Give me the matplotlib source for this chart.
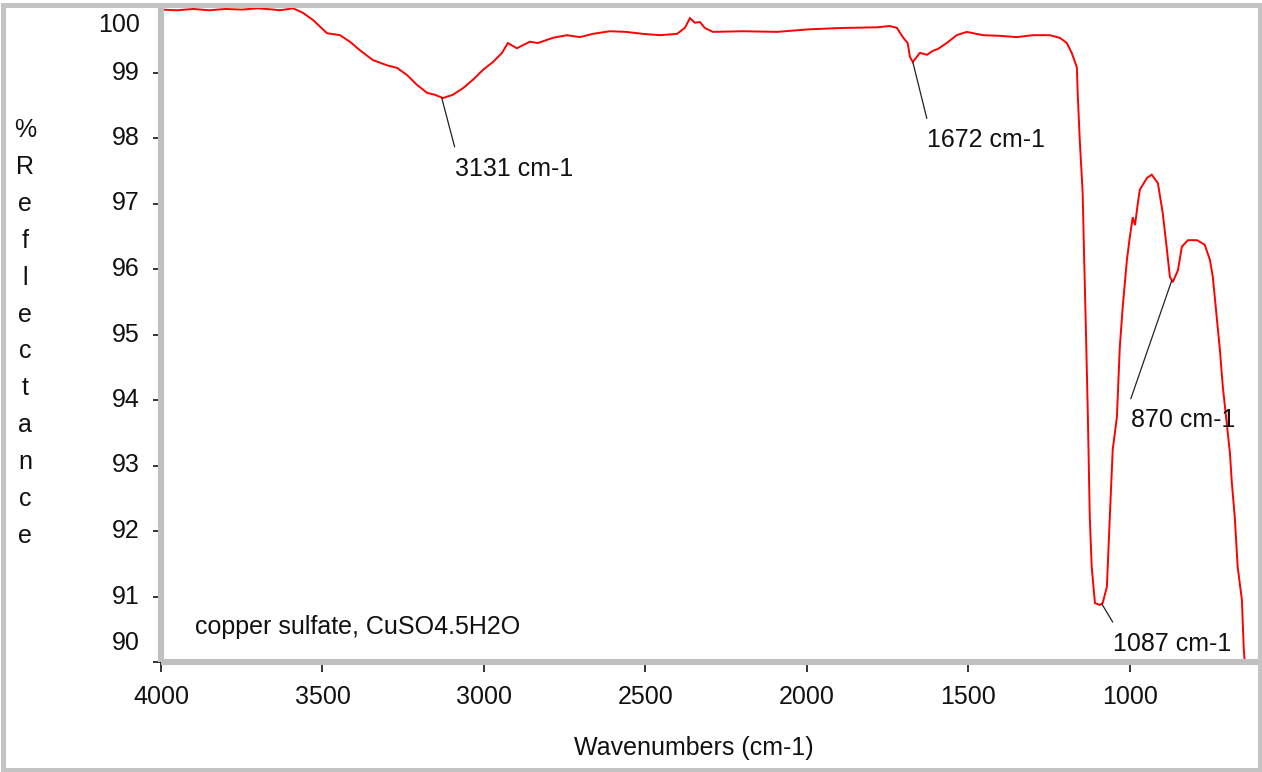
import numpy as np
import matplotlib
matplotlib.use("Agg")
import matplotlib.pyplot as plt
from matplotlib.patches import Rectangle
from matplotlib.ticker import MultipleLocator

# ---------------- data ----------------
wavenumber = [4000, 3950, 3900, 3850, 3800, 3750, 3700, 3650, 3632, 3591, 3560, 3529,
              3486, 3446, 3415, 3384, 3344, 3300, 3269, 3238, 3207, 3176, 3152, 3127,
              3096, 3065, 3034, 3003, 2972, 2944, 2926, 2898, 2858, 2833, 2786, 2743,
              2703, 2663, 2610, 2560, 2508, 2455, 2402, 2378, 2362, 2347, 2331, 2316,
              2291, 2198, 2093, 1991, 1889, 1783, 1743, 1721, 1703, 1688, 1681, 1672,
              1650, 1628, 1610, 1594, 1567, 1536, 1505, 1455, 1402, 1350, 1300, 1248,
              1217, 1195, 1180, 1164, 1161, 1155, 1146, 1142, 1136, 1130, 1124, 1118,
              1108, 1093, 1084, 1071, 1062, 1053, 1040, 1031, 1022, 1009, 1000, 991,
              984, 975, 969, 947, 932, 913, 898, 885, 876, 867, 851, 839, 820, 792,
              768, 752, 743, 731, 721, 712, 700, 690, 684, 675, 666, 653, 647, 644]
reflectance = [99.96, 99.95, 99.97, 99.95, 99.97, 99.96, 99.98, 99.96, 99.95, 99.98, 99.91, 99.80,
               99.60, 99.57, 99.47, 99.34, 99.19, 99.11, 99.07, 98.96, 98.81, 98.69, 98.66, 98.61,
               98.66, 98.76, 98.89, 99.04, 99.16, 99.30, 99.45, 99.37, 99.47, 99.45, 99.53, 99.57,
               99.54, 99.59, 99.63, 99.62, 99.59, 99.57, 99.59, 99.68, 99.83, 99.76, 99.77, 99.68,
               99.62, 99.63, 99.62, 99.66, 99.68, 99.69, 99.71, 99.68, 99.54, 99.45, 99.24, 99.16,
               99.30, 99.27, 99.33, 99.36, 99.45, 99.57, 99.62, 99.57, 99.56, 99.54, 99.57, 99.57,
               99.53, 99.45, 99.30, 99.08, 98.63, 97.97, 97.16, 96.29, 95.07, 93.77, 92.21, 91.45,
               90.90, 90.87, 90.90, 91.15, 92.21, 93.24, 93.74, 94.81, 95.42, 96.14, 96.49, 96.79,
               96.67, 97.01, 97.21, 97.39, 97.44, 97.31, 96.85, 96.29, 95.88, 95.80, 95.98, 96.34, 96.44, 96.44,
               96.37, 96.14, 95.88, 95.27, 94.76, 94.20, 93.65, 93.19, 92.73, 92.21, 91.45, 90.95, 90.18, 90.0]

peak_positions = [3131, 1672, 870, 1087]
peak_labels = ["3131 cm-1", "1672 cm-1", "870 cm-1", "1087 cm-1"]
y_tick_values = [90, 91, 92, 93, 94, 95, 96, 97, 98, 99, 100]
x_tick_values = [4000, 3500, 3000, 2500, 2000, 1500, 1000]
sample_name = "copper sulfate, CuSO4.5H2O"
y_title = "%Reflectance"
x_title = "Wavenumbers (cm-1)"

# ---------------- styling / layout ----------------
plt.rcParams['font.family'] = ['Liberation Sans', 'DejaVu Sans']
FS = 18
W, H = 1262, 772
fig = plt.figure(figsize=(W / 100, H / 100), dpi=100)
fig.patch.set_facecolor('white')

ax_l, ax_r, ax_t, ax_b = 161, 1259, 7, 662
ax = fig.add_axes([ax_l / W, (H - ax_b) / H, (ax_r - ax_l) / W, (ax_b - ax_t) / H])

ax.plot(wavenumber, reflectance, color='#ff0000', lw=1.4, solid_joinstyle='miter')
ax.set_xlim(4000, 600)
ax.set_ylim(90, 100)

for s in ['top', 'right']:
    ax.spines[s].set_visible(False)
for s in ['left', 'bottom']:
    ax.spines[s].set_color('#c0c0c0')
    ax.spines[s].set_linewidth(4.4)
    ax.spines[s].set_capstyle('butt')

ax.set_xticks(x_tick_values)
ax.set_xticklabels([str(v) for v in x_tick_values])
ax.xaxis.set_minor_locator(MultipleLocator(100))
ax.set_yticks(y_tick_values)
ax.set_yticklabels([])
ax.yaxis.set_minor_locator(MultipleLocator(0.25))

ax.tick_params(axis='x', which='major', direction='out', length=7.2, width=1.2,
               color='#111111', labelsize=FS, pad=9, labelcolor='#111111')
ax.tick_params(axis='y', which='major', direction='out', length=5.8, width=1.2,
               color='#111111')
ax.tick_params(axis='both', which='minor', direction='inout', length=3.6, width=1.2,
               color='#111111')

# y tick labels (end labels pulled inward as in the reference)
for v in y_tick_values:
    dy = -18 if v == y_tick_values[-1] else (19 if v == y_tick_values[0] else 0)
    ax.annotate(str(v), xy=(0, v), xycoords=ax.get_yaxis_transform(),
                xytext=(-21, dy), textcoords='offset pixels',
                ha='right', va='center', fontsize=FS, color='#111111',
                annotation_clip=False)

# stacked vertical y title
for i, ch in enumerate(y_title):
    fig.text(25 / W, (H - (137 + i * 36.9)) / H, ch, ha='center', va='baseline',
             fontsize=FS, color='#111111')

ax.set_xlabel(x_title, fontsize=FS, color='#111111')
ax.xaxis.set_label_coords((694 - ax_l) / (ax_r - ax_l), -(748 - ax_b) / (ax_b - ax_t))
ax.xaxis.label.set_va('center')

ax.text((195 - ax_l) / (ax_r - ax_l), (ax_b - 634) / (ax_b - ax_t), sample_name,
        transform=ax.transAxes, ha='left', va='baseline', fontsize=FS, color='#111111')

# peak annotations
offsets = [(13, -59), (14, -66), (-41, -128), (11, -28)]
wn_asc = np.array(wavenumber[::-1], dtype=float)
rf_asc = np.array(reflectance[::-1], dtype=float)
for pos, lab, off in zip(peak_positions, peak_labels, offsets):
    yv = float(np.interp(pos, wn_asc, rf_asc))
    ax.annotate(lab, xy=(pos, yv), xytext=off, textcoords='offset pixels',
                ha='left', va='top', fontsize=FS, color='#111111',
                arrowprops=dict(arrowstyle='-', color='#222222', lw=0.9,
                                shrinkA=0, shrinkB=0, relpos=(0, 1.4)))

# outer gray frame
fig.add_artist(Rectangle((2.5 / W, 2.5 / H), (1260 - 2.5) / W, (H - 4.5 - 2.5) / H,
                         transform=fig.transFigure, fill=False,
                         edgecolor='#c4c4c4', lw=3.6, zorder=10))

fig.savefig('out.png', dpi=100, facecolor='white')
